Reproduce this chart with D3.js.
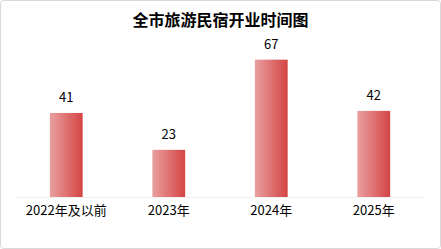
<!DOCTYPE html>
<html><head><meta charset="utf-8">
<script src="https://cdn.jsdelivr.net/npm/d3@7"></script>
<style>html,body{margin:0;padding:0;background:#fff;}svg{display:block;}</style>
</head><body>
<svg id="chart" width="441" height="249"></svg>
<script>
const title = "全市旅游民宿开业时间图";
const categories = ["2022年及以前", "2023年", "2024年", "2025年"];
const values = [41, 23, 67, 42];

const W = 441, H = 249;
const svg = d3.select("#chart");
const font = "'Microsoft YaHei','Noto Sans CJK SC','DejaVu Sans',sans-serif";

svg.append("rect").attr("x",0.5).attr("y",0.5).attr("width",W-1).attr("height",H-1)
  .attr("rx",3).attr("fill","#fff").attr("stroke","#d9d9d9");

const defs = svg.append("defs");
const g = defs.append("linearGradient").attr("id","barGrad").attr("x1","0").attr("x2","1").attr("y1","0").attr("y2","0");
g.append("stop").attr("offset","0%").attr("stop-color","#e9a0a0");
g.append("stop").attr("offset","100%").attr("stop-color","#d54444");

const x = d3.scaleBand().domain(categories).range([15, 425]).padding(0);
const y = d3.scaleLinear().domain([0, 80]).range([197, 33]);
const barW = x.step() * 0.32;

svg.append("line").attr("x1",15).attr("x2",425).attr("y1",197.5).attr("y2",197.5)
  .attr("stroke","#f0f0f0");

svg.selectAll("rect.bar").data(values).join("rect").attr("class","bar")
  .attr("x",(d,i)=>x(categories[i]) + x.bandwidth()/2 - barW/2)
  .attr("width",barW)
  .attr("y",d=>y(d)).attr("height",d=>y(0)-y(d))
  .attr("fill","url(#barGrad)");

svg.selectAll("text.val").data(values).join("text").attr("class","val")
  .attr("x",(d,i)=>x(categories[i]) + x.bandwidth()/2)
  .attr("y",d=>y(d)-11)
  .attr("text-anchor","middle").attr("font-family",font).attr("font-size",13)
  .attr("fill","#000").text(d=>d);

const xAxis = svg.append("g").attr("transform","translate(0,197)")
  .call(d3.axisBottom(x).tickSize(0).tickPadding(9));
xAxis.select(".domain").remove();
xAxis.selectAll("text").attr("font-family",font).attr("font-size",13).attr("fill","#000");

svg.append("text").attr("x",W/2).attr("y",26).attr("text-anchor","middle")
  .attr("font-family",font).attr("font-size",16).attr("font-weight","bold")
  .attr("fill","#000").text(title);
</script>
</body></html>
